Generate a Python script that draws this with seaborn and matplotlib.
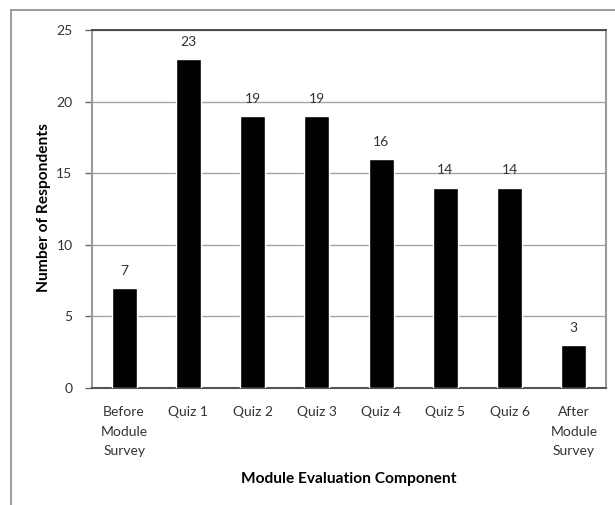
import matplotlib
matplotlib.use("Agg")
import matplotlib.pyplot as plt
import seaborn as sns
import pandas as pd

components = ["Before\nModule\nSurvey", "Quiz 1", "Quiz 2", "Quiz 3",
              "Quiz 4", "Quiz 5", "Quiz 6", "After\nModule\nSurvey"]
respondents = [7, 23, 19, 19, 16, 14, 14, 3]
y_ticks = [0, 5, 10, 15, 20, 25]

df = pd.DataFrame({"component": components, "respondents": respondents})

sns.set_style("white")
plt.rcParams["font.family"] = ["Lato", "DejaVu Sans"]

fig = plt.figure(figsize=(6.15, 5.05), dpi=100)
ax = fig.add_axes([92 / 615, 1 - 388 / 505, 514 / 615, 358 / 505])

sns.barplot(data=df, x="component", y="respondents", color="black",
            width=0.39, saturation=1, ax=ax, zorder=3)

# value labels above the bars
for i, v in enumerate(respondents):
    ax.annotate(str(v), (i, v), xytext=(0, 8), textcoords="offset points",
                ha="center", va="bottom", fontsize=10, color="#333333")

ax.set_ylim(0, 25)
ax.set_xlim(-0.5, len(components) - 0.5)
ax.set_yticks(y_ticks)
ax.yaxis.grid(True, color="#a6a6a6", linewidth=1, zorder=0)
ax.set_axisbelow(True)

ax.tick_params(axis="y", length=5, width=1, color="#666666", pad=9,
               labelsize=10, labelcolor="#333333", left=True)
ax.tick_params(axis="x", length=0, pad=13, labelsize=10, labelcolor="#333333")
for lbl in ax.get_xticklabels():
    lbl.set_linespacing(1.75)
    lbl.set_va("top")

for side in ["left", "right"]:
    ax.spines[side].set_color("#9a9a9a")
    ax.spines[side].set_linewidth(1.5)
ax.spines["top"].set_color("#333333")
ax.spines["top"].set_linewidth(1.2)
ax.spines["bottom"].set_color("#555555")
ax.spines["bottom"].set_linewidth(1.5)

ax.set_xlabel("Module Evaluation Component", fontsize=11.2, fontweight="bold",
              color="black")
ax.set_ylabel("Number of Respondents", fontsize=11.2, fontweight="bold",
              color="black")
ax.xaxis.set_label_coords(0.5, -0.235)
ax.yaxis.set_label_coords(-0.08, 0.503)

# outer chart frame (cropped at right and bottom)
fig.add_artist(plt.Line2D([11 / 615, 11 / 615], [0, 1 - 10 / 505],
                          color="#8c8c8c", linewidth=1.2))
fig.add_artist(plt.Line2D([11 / 615, 1], [1 - 10 / 505, 1 - 10 / 505],
                          color="#8c8c8c", linewidth=1.2))

fig.savefig("out.png", dpi=100)
